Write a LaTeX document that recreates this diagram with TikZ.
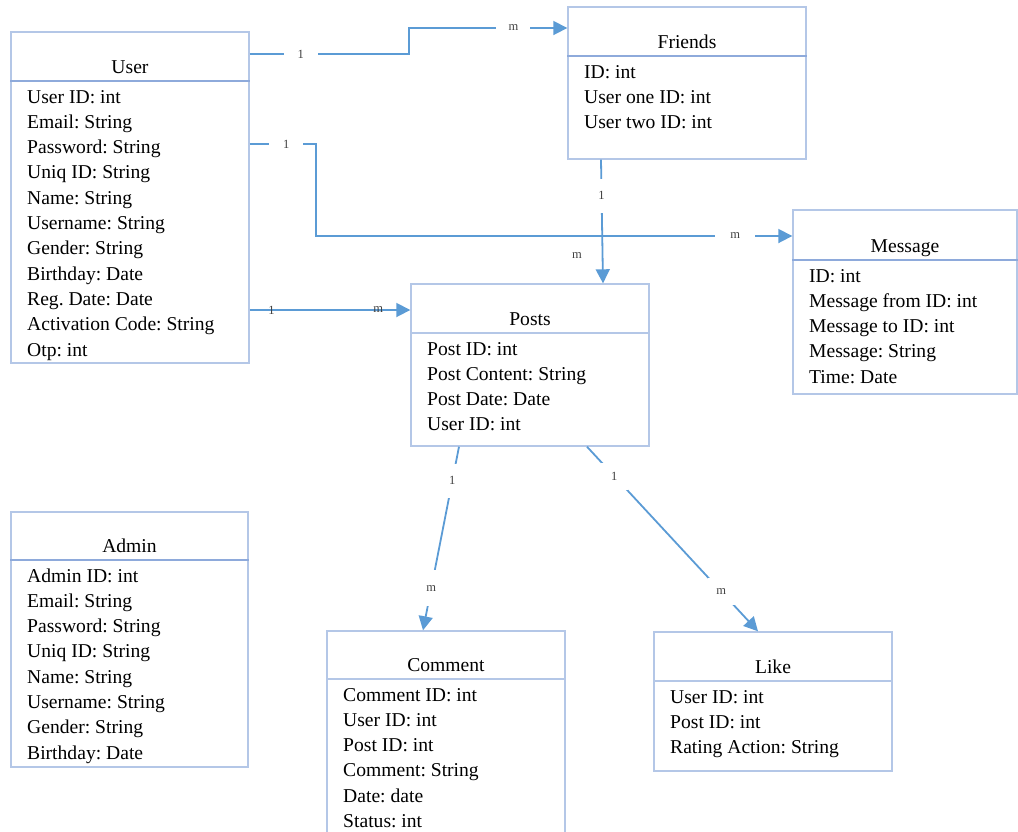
\documentclass[tikz,border=0pt]{standalone}
\usepackage{fontspec}
\setmainfont{Liberation Serif}
\usetikzlibrary{arrows.meta}
\definecolor{boxblue}{HTML}{B4C7E7}
\definecolor{divblue}{HTML}{8EAADB}
\definecolor{lineblue}{HTML}{5B9BD5}
\definecolor{lblgray}{HTML}{404040}
\tikzset{
  ebox/.style={draw=boxblue, line width=1.4pt, inner sep=0pt, fill=white},
  divthick/.style={draw=divblue, line width=2.6pt},
  divthin/.style={draw=boxblue, line width=1.4pt},
  etitle/.style={anchor=base, inner sep=0pt, font=\fontsize{19.6}{23}\selectfont},
  eattr/.style={anchor=base west, inner sep=0pt, font=\fontsize{19.6}{23}\selectfont},
  conn/.style={draw=lineblue, line width=1.8pt, -{Triangle[length=14pt,width=14pt]}},
  cardlbl/.style={inner sep=0pt, text=lblgray, font=\fontsize{12.5}{14}\selectfont},
  cardgap/.style={cardlbl, fill=white, minimum size=#1},
}
\newcommand\entbox[9]{%
  \node[ebox, minimum width={(#4)-(#2)}, minimum height={(#5)-(#3)}] (#1) at ({((#2)+(#4))/2},{((#3)+(#5))/2}) {};
  \draw[#8] (#1.west |- 0,#6) -- (#1.east |- 0,#6);
  \node[etitle] (#1-title) at ({((#2)+(#4))/2},{(#6)-7.5}) {#7};
  \foreach \t [count=\i from 0] in {#9}
    \node[eattr] (#1-a\i) at ({(#2)+16},{(#6)+22+25.3*\i}) {\t};
}
\begin{document}
\frenchspacing
\begin{tikzpicture}[x=1pt,y=-1pt]
\useasboundingbox (0,0) rectangle (1018,831);

\entbox{User}{11}{32}{249}{363}{81}{User}{divthick}{User ID: int,Email: String,Password: String,Uniq ID: String,Name: String,Username: String,Gender: String,Birthday: Date,Reg. Date: Date,Activation Code: String,Otp: int}
\entbox{Friends}{568}{7}{806}{159}{56}{Friends}{divthick}{ID: int,User one ID: int,User two ID: int}
\entbox{Message}{793}{210}{1017}{394}{260}{Message}{divthick}{ID: int,Message from ID: int,Message to ID: int,Message: String,Time: Date}
\entbox{Posts}{411}{284}{649}{446}{333}{Posts}{divthin}{Post ID: int,Post Content: String,Post Date: Date,User ID: int}
\entbox{Admin}{11}{512}{248}{767}{560}{Admin}{divthick}{Admin ID: int,Email: String,Password: String,Uniq ID: String,Name: String,Username: String,Gender: String,Birthday: Date}
\entbox{Comment}{327}{631}{565}{850}{679}{Comment}{divthin}{Comment ID: int,User ID: int,Post ID: int,Comment: String,Date: date,Status: int}
\entbox{Like}{654}{632}{892}{771}{681}{Like}{divthin}{User ID: int,Post ID: int,Rating Action: String}

% User -> Friends
\coordinate (uf1) at (409,54);
\coordinate (uf2) at (409,28);
\draw[conn] (User.east |- 0,54) -- node[cardgap=34pt, pos=0.32]{1} (uf1) -- (uf2)
  -- node[cardgap=34pt, pos=0.66]{m} (Friends.west |- 0,28);

% User -> Message
\coordinate (um1) at (316,144);
\coordinate (um2) at (316,236);
\draw[conn] (User.east |- 0,144) -- node[cardgap=34pt, pos=0.55]{1} (um1) -- (um2)
  -- node[cardgap=40pt, pos=0.88]{m} (Message.west |- 0,236);

% Friends -> Posts
\draw[conn] (Friends.south -| 601,0) -- node[cardgap=34pt, pos=0.29]{1} (Posts.north -| 603,0);
\node[cardlbl] (fpm) at (577,256) {m};

% User -> Posts
\draw[conn] (User.east |- 0,310) -- node[cardlbl, pos=0.136]{1} node[cardlbl, pos=0.80]{m} (Posts.west |- 0,310);

% Posts -> Comment
\draw[conn] (Posts.south -| 459,0) -- node[cardgap=34pt, pos=0.185]{1} node[cardgap=36pt, pos=0.77]{m} (Comment.north -| 423,0);

% Posts -> Like
\draw[conn] (Posts.south -| 587,0) -- node[cardgap=27pt, pos=0.16]{1} node[cardgap=27pt, pos=0.785]{m} (Like.north -| 758,0);
\end{tikzpicture}
\end{document}
